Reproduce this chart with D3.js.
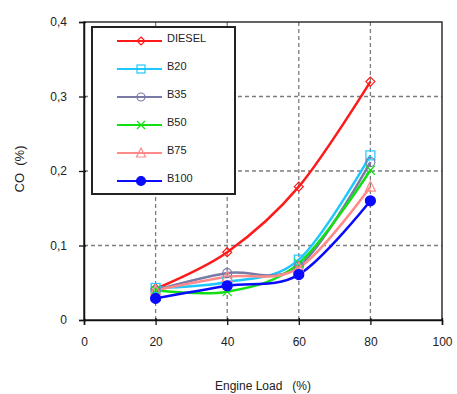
<!DOCTYPE html>
<html>
<head>
<meta charset="utf-8">
<script src="https://cdn.jsdelivr.net/npm/d3@7/dist/d3.min.js"></script>
<style>
  html, body { margin: 0; padding: 0; background: #fff; }
  svg { display: block; font-family: "Liberation Sans", Arial, sans-serif; }
</style>
</head>
<body>
<svg id="chart" width="457" height="394"></svg>
<script>
// Engine load (%) at which CO was measured
const loads = [20, 40, 60, 80];

// CO emissions (%) per fuel blend
const diesel = [0.042, 0.091, 0.179, 0.320];
const b20    = [0.043, 0.051, 0.081, 0.221];
const b35    = [0.040, 0.063, 0.072, 0.212];
const b50    = [0.040, 0.038, 0.076, 0.201];
const b75    = [0.040, 0.058, 0.070, 0.179];
const b100   = [0.029, 0.046, 0.061, 0.160];

const seriesNames = ["DIESEL", "B20", "B35", "B50", "B75", "B100"];
const seriesValues = [diesel, b20, b35, b50, b75, b100];

const xTicks = [0, 20, 40, 60, 80, 100];
const yTicks = [0, 0.1, 0.2, 0.3, 0.4];
const yTickLabels = ["0", "0,1", "0,2", "0,3", "0,4"];

const styles = [
  { color: "#ff1a1a", marker: "diamond",  fill: "none" },
  { color: "#1ec8ff", marker: "square",   fill: "none" },
  { color: "#7a7aa6", marker: "circle",   fill: "none" },
  { color: "#12e012", marker: "cross",    fill: "none" },
  { color: "#ff8a8a", marker: "triangle", fill: "none" },
  { color: "#0a0aff", marker: "circle",   fill: "filled" }
];

const svg = d3.select("#chart");
const L = 84, R = 442, T = 22, B = 320;

const x = d3.scaleLinear().domain([0, 100]).range([L, R]);
const y = d3.scaleLinear().domain([0, 0.4]).range([B, T]);

// dashed grid
const grid = svg.append("g").attr("stroke", "#7c7c7c").attr("stroke-width", 1.3)
  .attr("stroke-dasharray", "4,3");
grid.selectAll("line.v").data([20, 40, 60, 80]).join("line")
  .attr("x1", d => x(d)).attr("x2", d => x(d)).attr("y1", T).attr("y2", B);
grid.selectAll("line.h").data([0.1, 0.2, 0.3]).join("line")
  .attr("x1", L).attr("x2", R).attr("y1", d => y(d)).attr("y2", d => y(d));

// frame
svg.append("rect").attr("x", L).attr("y", T).attr("width", R - L).attr("height", B - T)
  .attr("fill", "none").attr("stroke", "#111").attr("stroke-width", 1.3);

// axes
const xAxis = d3.axisBottom(x).tickValues(xTicks).tickSize(5).tickPadding(12)
  .tickFormat(d3.format("d"));
const gx = svg.append("g").attr("transform", `translate(0,${B})`).call(xAxis);
gx.select(".domain").attr("stroke", "#111").attr("stroke-width", 1.5);
gx.selectAll(".tick line").attr("stroke", "#111").attr("stroke-width", 1.3)
  .attr("y1", -2);
gx.selectAll(".tick text").attr("font-size", 12).attr("fill", "#222")
  .attr("font-family", "Liberation Sans, Arial, sans-serif");

const yAxis = d3.axisLeft(y).tickValues(yTicks).tickSize(5).tickPadding(12)
  .tickFormat((d, i) => yTickLabels[i]);
const gy = svg.append("g").attr("transform", `translate(${L},0)`).call(yAxis);
gy.select(".domain").attr("stroke", "#111").attr("stroke-width", 1.5);
gy.selectAll(".tick line").attr("stroke", "#111").attr("stroke-width", 1.3)
  .attr("x1", 2);
gy.selectAll(".tick text").attr("font-size", 12).attr("fill", "#222")
  .attr("font-family", "Liberation Sans, Arial, sans-serif");

// axis titles
svg.append("text").attr("x", (L + R) / 2).attr("y", 390).attr("text-anchor", "middle")
  .attr("font-size", 12).attr("fill", "#222").attr("xml:space", "preserve")
  .text("Engine Load   (%)");
svg.append("text").attr("transform", `translate(24,${(T + B) / 2 - 2}) rotate(-90)`)
  .attr("text-anchor", "middle").attr("font-size", 13).attr("fill", "#222")
  .attr("xml:space", "preserve").text("CO  (%)");

// marker drawing
function drawMarker(g, cx, cy, st, size) {
  const s = size;
  if (st.marker === "diamond") {
    g.append("path").attr("d", `M${cx},${cy - s}L${cx + s},${cy}L${cx},${cy + s}L${cx - s},${cy}Z`)
      .attr("fill", "none").attr("stroke", st.color).attr("stroke-width", 1.2);
  } else if (st.marker === "square") {
    g.append("rect").attr("x", cx - s).attr("y", cy - s).attr("width", 2 * s).attr("height", 2 * s)
      .attr("fill", "none").attr("stroke", st.color).attr("stroke-width", 1.2);
  } else if (st.marker === "circle") {
    g.append("circle").attr("cx", cx).attr("cy", cy).attr("r", st.fill === "filled" ? s + 0.5 : s)
      .attr("fill", st.fill === "filled" ? st.color : "none")
      .attr("stroke", st.color).attr("stroke-width", 1.2);
  } else if (st.marker === "cross") {
    g.append("path").attr("d", `M${cx - s},${cy - s}L${cx + s},${cy + s}M${cx - s},${cy + s}L${cx + s},${cy - s}`)
      .attr("stroke", st.color).attr("stroke-width", 1.2);
  } else if (st.marker === "triangle") {
    g.append("path").attr("d", `M${cx},${cy - s - 1}L${cx + s + 0.5},${cy + s}L${cx - s - 0.5},${cy + s}Z`)
      .attr("fill", "none").attr("stroke", st.color).attr("stroke-width", 1.2);
  }
}

// series lines
const line = d3.line().x(d => x(d[0])).y(d => y(d[1])).curve(d3.curveCardinal.tension(0));
const plot = svg.append("g");
seriesValues.forEach((vals, i) => {
  const pts = loads.map((l, j) => [l, vals[j]]);
  plot.append("path").datum(pts).attr("d", line).attr("fill", "none")
    .attr("stroke", styles[i].color).attr("stroke-width", 2.5).attr("stroke-linejoin", "round");
});
seriesValues.forEach((vals, i) => {
  const g = plot.append("g");
  loads.forEach((l, j) => drawMarker(g, x(l), y(vals[j]), styles[i], 4.5));
});

// legend
const lg = svg.append("g");
lg.append("rect").attr("x", 92).attr("y", 27).attr("width", 143).attr("height", 167)
  .attr("fill", "#fff").attr("stroke", "#222").attr("stroke-width", 2);
seriesNames.forEach((name, i) => {
  const ly = 41 + i * 28;
  lg.append("line").attr("x1", 117).attr("x2", 162).attr("y1", ly).attr("y2", ly)
    .attr("stroke", styles[i].color).attr("stroke-width", 1.8);
  drawMarker(lg, 141, ly, styles[i], 4);
  lg.append("text").attr("x", 167).attr("y", ly + 1).attr("font-size", 11).attr("fill", "#222")
    .text(name);
});
</script>
</body>
</html>
